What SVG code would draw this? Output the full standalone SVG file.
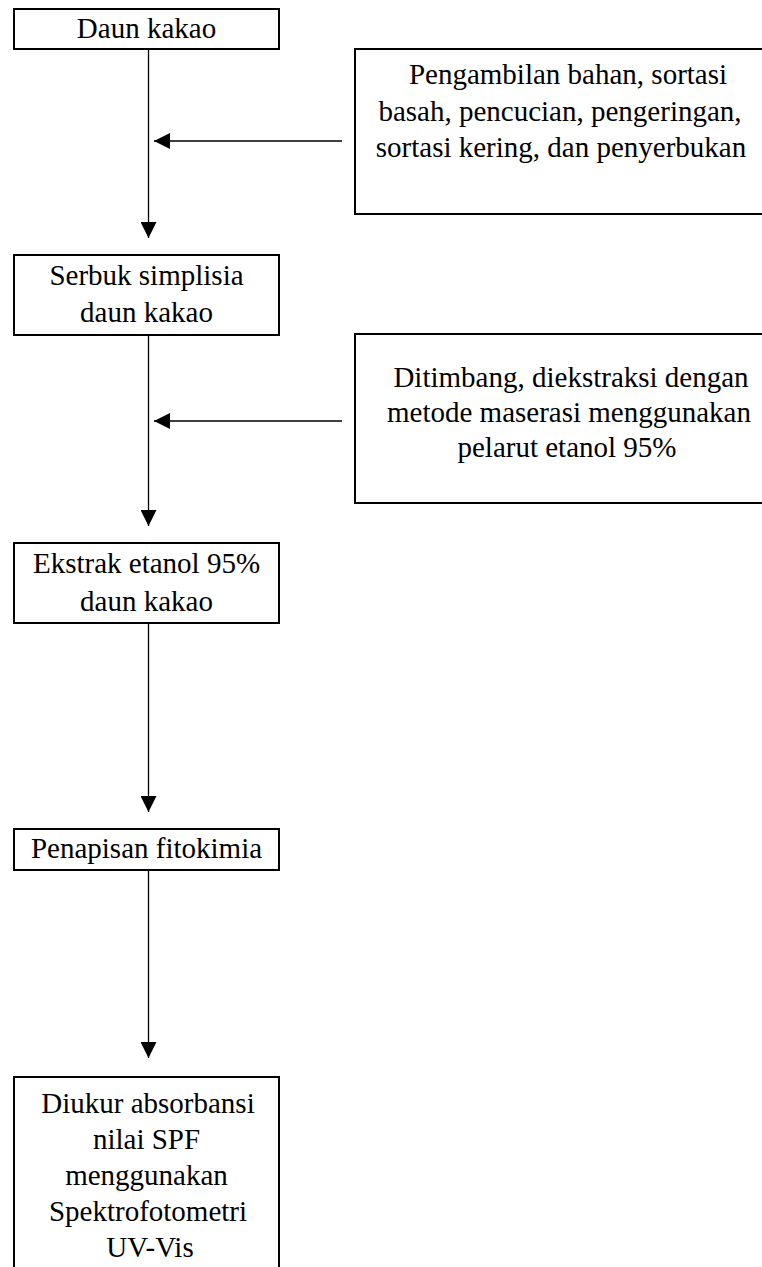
<svg xmlns="http://www.w3.org/2000/svg" width="762" height="1267" viewBox="0 0 762 1267">
<style>
.box{fill:#fff;stroke:#000;stroke-width:2}
.t{font-family:"Liberation Serif","Times New Roman",serif;font-size:29px;fill:#000;text-anchor:middle}
.c{stroke:#000;stroke-width:1.3;fill:none;marker-end:url(#ah)}
</style>
<defs>
<marker id="ah" viewBox="0 0 16 16" refX="16" refY="8" markerWidth="16" markerHeight="16" orient="auto" markerUnits="userSpaceOnUse">
<path d="M0,0 L16,8 L0,16 Z" fill="#000"/>
</marker>
</defs>
<rect width="762" height="1267" fill="#fff"/>
<g id="connectors">
<line class="c" x1="148.5" y1="49" x2="148.5" y2="238"/>
<line class="c" x1="148.5" y1="335" x2="148.5" y2="526"/>
<line class="c" x1="148.5" y1="623" x2="148.5" y2="812"/>
<line class="c" x1="148.5" y1="870" x2="148.5" y2="1058"/>
<line class="c" x1="342" y1="141" x2="154" y2="141"/>
<line class="c" x1="342" y1="421" x2="154" y2="421"/>
</g>
<g id="daun-kakao">
<rect class="box" x="14" y="9" width="265" height="40"/>
<text class="t" x="146.5" y="38">Daun kakao</text>
</g>
<g id="persiapan">
<rect class="box" x="355" y="49" width="420" height="165"/>
<text class="t" x="568" y="84">Pengambilan bahan, sortasi</text>
<text class="t" x="560" y="120.5">basah, pencucian, pengeringan,</text>
<text class="t" x="561" y="157">sortasi kering, dan penyerbukan</text>
</g>
<g id="serbuk">
<rect class="box" x="14" y="255" width="265" height="80"/>
<text class="t" x="146.5" y="285">Serbuk simplisia</text>
<text class="t" x="146.5" y="322">daun kakao</text>
</g>
<g id="ekstraksi">
<rect class="box" x="355" y="334" width="420" height="169"/>
<text class="t" x="571" y="386.5">Ditimbang, diekstraksi dengan</text>
<text class="t" x="569" y="421.5">metode maserasi menggunakan</text>
<text class="t" x="567" y="457">pelarut etanol 95%</text>
</g>
<g id="ekstrak">
<rect class="box" x="14" y="543" width="265" height="80"/>
<text class="t" x="146.5" y="573">Ekstrak etanol 95%</text>
<text class="t" x="146.5" y="611">daun kakao</text>
</g>
<g id="penapisan">
<rect class="box" x="14" y="829" width="265" height="41"/>
<text class="t" x="146.5" y="858">Penapisan fitokimia</text>
</g>
<g id="spf">
<rect class="box" x="14" y="1077" width="265" height="220"/>
<text class="t" x="148" y="1113">Diukur absorbansi</text>
<text class="t" x="146.5" y="1149">nilai SPF</text>
<text class="t" x="146.5" y="1185">menggunakan</text>
<text class="t" x="148" y="1221">Spektrofotometri</text>
<text class="t" x="150" y="1257">UV-Vis</text>
</g>
</svg>
